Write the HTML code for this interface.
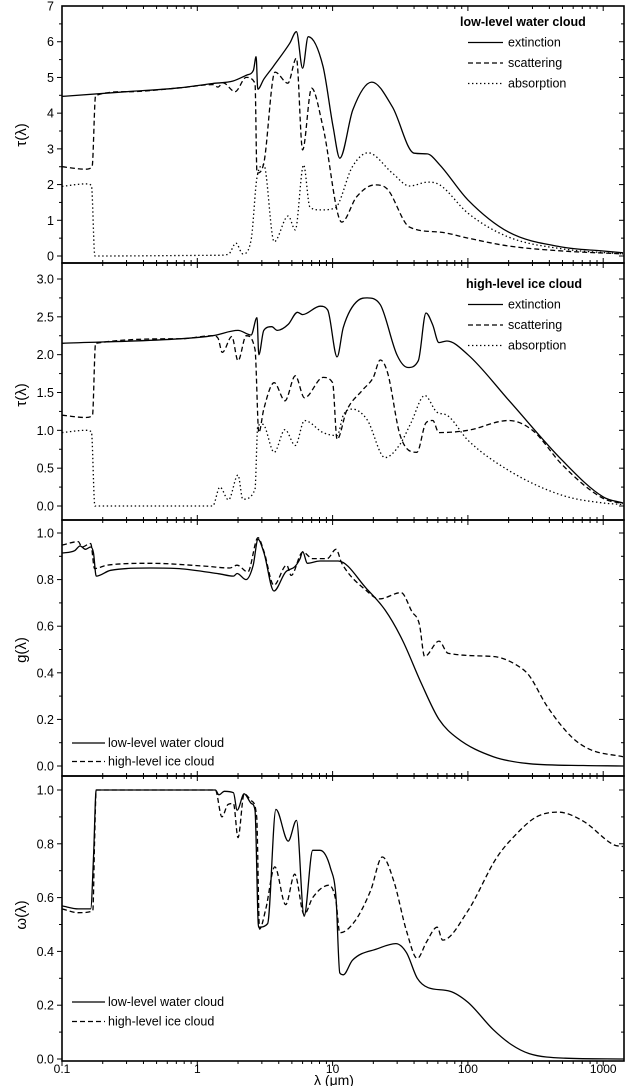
<!DOCTYPE html>
<html><head><meta charset="utf-8"><style>
html,body{margin:0;padding:0;background:#fff}
svg{display:block;font-family:"Liberation Sans",Arial,sans-serif}
</style></head><body>
<svg id="chart" width="626" height="1086" viewBox="0 0 626 1086" xmlns="http://www.w3.org/2000/svg"></svg>
<script>
// ---- data (wavelength in µm, values per panel) ----
const p1ExtX=[0.1,0.3,0.745,1.3,1.84,2.33,2.6,2.72,2.8,3.1,3.63,4.83,5.4,6.0,6.6,8.5,10.1,11.3,14.1,19.5,27.7,40,50,62,100,200,500,1000,1400];
const p1ExtY=[4.47,4.6,4.71,4.83,4.9,5.07,5.2,5.58,4.67,4.95,5.3,5.96,6.28,5.26,6.14,5.3,3.6,2.74,4.09,4.87,4.17,2.88,2.86,2.55,1.57,0.67,0.25,0.14,0.09];
const p1ScaX=[0.1,0.15,0.167,0.177,0.3,0.745,1.3,1.42,1.55,1.9,2.3,2.67,2.76,3.1,3.75,4.67,5.4,6.0,7.0,8.5,11.7,15,20.5,25,37,62,100,200,500,1400];
const p1ScaY=[2.5,2.43,2.5,4.49,4.6,4.71,4.8,4.73,4.85,4.6,5.0,4.84,2.32,2.6,5.15,4.84,5.54,2.97,4.7,3.6,0.95,1.65,1.99,1.9,0.81,0.67,0.5,0.28,0.14,0.06];
const p1AbsX=[0.1,0.15,0.165,0.175,1.4,1.7,1.93,2.17,2.5,2.76,3.1,3.7,4.7,5.3,6.1,6.8,8.1,10.4,14,18.3,27.7,37,51,62,100,200,500,1400];
const p1AbsY=[1.95,2.02,1.98,0.0,0.02,0.05,0.36,0.06,0.45,2.2,2.55,0.4,1.12,0.73,2.55,1.37,1.29,1.34,2.5,2.89,2.32,1.96,2.07,1.99,1.2,0.53,0.2,0.06];

const p2ExtX=[0.1,0.745,1.3,2.0,2.5,2.76,2.85,3.1,3.55,3.9,4.7,5.5,6.0,8.1,9.2,10.8,12,15.5,18,22.5,30,36,43,49,55,61,70,100,200,500,1000,1400];
const p2ExtY=[2.15,2.21,2.25,2.32,2.26,2.49,2.0,2.32,2.37,2.32,2.4,2.56,2.53,2.64,2.59,1.97,2.36,2.72,2.75,2.66,1.99,1.83,1.92,2.55,2.39,2.16,2.18,2.0,1.4,0.6,0.12,0.04];
const p2ScaX=[0.1,0.15,0.168,0.177,0.745,1.3,1.42,1.53,1.8,2.0,2.3,2.67,2.85,3.1,3.7,4.45,5.3,6.2,8.5,10,10.8,12.7,16.6,20,22.5,25.5,31.6,42,49,55,61,100,200,300,500,1000,1400];
const p2ScaY=[1.2,1.17,1.2,2.15,2.21,2.25,2.22,2.03,2.24,1.92,2.25,2.07,0.97,1.28,1.63,1.39,1.72,1.43,1.7,1.63,0.88,1.26,1.53,1.7,1.93,1.76,0.93,0.71,1.1,1.13,0.97,1.0,1.13,1.0,0.54,0.1,0.03];
const p2AbsX=[0.1,0.15,0.165,0.175,1.3,1.47,1.7,2.0,2.17,2.67,2.8,3.05,3.7,4.45,5.3,6.2,8.5,10.8,12,14,18,24.4,31.6,38,48,59,70,100,200,500,1000,1400];
const p2AbsY=[0.97,1.0,0.98,0.0,0.0,0.25,0.08,0.41,0.09,0.22,1.06,1.08,0.71,1.01,0.8,1.13,0.97,0.93,1.2,1.28,1.14,0.64,0.82,1.1,1.46,1.24,1.2,0.87,0.47,0.14,0.04,0.02];

const p3LowX=[0.1,0.124,0.136,0.149,0.163,0.171,0.179,0.229,0.45,0.736,1.445,1.85,1.97,2.29,2.59,2.81,3.11,3.68,4.5,5.25,5.75,6.01,6.51,8.07,11.0,17.9,24.4,33.1,45,61.2,83.2,154,284,713,1400];
const p3LowY=[0.914,0.924,0.944,0.93,0.94,0.914,0.815,0.84,0.85,0.847,0.825,0.815,0.826,0.8,0.862,0.973,0.914,0.751,0.833,0.855,0.89,0.92,0.87,0.88,0.88,0.76,0.67,0.536,0.358,0.2,0.12,0.04,0.01,0.002,0.0];
const p3HighX=[0.1,0.132,0.14,0.163,0.174,0.215,0.45,1.13,1.74,1.97,2.36,2.81,3.11,3.68,4.58,4.94,6.01,7.13,9.12,10.6,11.7,17.9,22.2,32.1,38.6,43.7,47.9,61.2,71.3,154,251,284,386,593,807,1400];
const p3HighY=[0.948,0.963,0.94,0.955,0.847,0.862,0.87,0.858,0.85,0.862,0.833,0.98,0.92,0.776,0.862,0.818,0.918,0.89,0.89,0.93,0.87,0.751,0.717,0.744,0.662,0.61,0.47,0.536,0.484,0.47,0.418,0.388,0.255,0.121,0.07,0.04];

const p4LowX=[0.1,0.132,0.163,0.171,0.179,1.36,1.445,1.585,1.85,1.97,2.22,2.51,2.67,2.84,3.31,3.81,4.7,5.41,6.16,7.13,8.07,9.69,10.6,11.3,12.0,14.0,21.5,29.3,35.2,42.3,50.9,73.6,100,154,209,284,525,1400];
const p4LowY=[0.569,0.558,0.558,0.75,1.0,1.0,0.982,0.995,0.99,0.925,0.986,0.95,0.925,0.49,0.503,0.928,0.81,0.887,0.531,0.776,0.776,0.707,0.6,0.32,0.313,0.367,0.41,0.429,0.395,0.3,0.265,0.252,0.211,0.109,0.054,0.02,0.003,0.0];
const p4HighX=[0.1,0.132,0.169,0.174,0.179,1.36,1.52,1.686,1.85,2.0,2.22,2.51,2.75,2.88,3.21,3.74,4.5,5.25,6.16,7.13,9.4,10.6,11.3,14.5,19.1,23.3,28.4,35.2,42.3,49.4,59.3,65.1,100,163,222,321,464,713,1200,1400];
const p4HighY=[0.558,0.544,0.551,0.8,1.0,1.0,0.9,0.946,0.95,0.823,0.986,0.96,0.9,0.483,0.558,0.714,0.574,0.687,0.537,0.6,0.646,0.585,0.469,0.51,0.626,0.751,0.66,0.476,0.374,0.435,0.49,0.442,0.551,0.748,0.83,0.9,0.918,0.884,0.796,0.79];

const xTickLabels=["0.1","1","10","100","1000"];
const p1TickLabels=["0","1","2","3","4","5","6","7"];
const p2TickLabels=["0.0","0.5","1.0","1.5","2.0","2.5","3.0"];
const gTickLabels=["0.0","0.2","0.4","0.6","0.8","1.0"];

// ---- layout ----
const NS="http://www.w3.org/2000/svg";
const svg=document.getElementById('chart');
const L=62,R=624,DEC=135.3;
function xs(l){return L+DEC*(Math.log10(l)+1);}
function mk(tag,attrs,parent){const e=document.createElementNS(NS,tag);for(const k in attrs)e.setAttribute(k,attrs[k]);(parent||svg).appendChild(e);return e;}

const panels=[
 {name:'extinction-panel-water',top:6,bot:263,y0:256,ppu:35.71,labels:p1TickLabels,vals:[0,1,2,3,4,5,6,7],minor:0.5,ylab:'τ(λ)',ylabY:135},
 {name:'extinction-panel-ice',top:263,bot:520,y0:506,ppu:75.67,labels:p2TickLabels,vals:[0,0.5,1,1.5,2,2.5,3],minor:0.25,ylab:'τ(λ)',ylabY:395},
 {name:'asymmetry-panel',top:520,bot:776,y0:766,ppu:233,labels:gTickLabels,vals:[0,0.2,0.4,0.6,0.8,1.0],minor:0.1,ylab:'g(λ)',ylabY:650},
 {name:'albedo-panel',top:776,bot:1061,y0:1059,ppu:269,labels:gTickLabels,vals:[0,0.2,0.4,0.6,0.8,1.0],minor:0.1,ylab:'ω(λ)',ylabY:915}
];
const defs=mk('defs',{});
panels.forEach((p,i)=>{
  const cp=mk('clipPath',{id:'clip'+i},defs);
  mk('rect',{x:L,y:p.top,width:R-L,height:p.bot-p.top},cp);
});

// monotone cubic path through pixel points
function smoothPath(px,py){
  const n=px.length; if(n<2)return '';
  const d=[],m=new Array(n);
  for(let i=0;i<n-1;i++){const dx=px[i+1]-px[i];d.push(dx>0?(py[i+1]-py[i])/dx:0);}
  m[0]=d[0];m[n-1]=d[n-2];
  for(let i=1;i<n-1;i++){m[i]=(d[i-1]*d[i]<=0)?0:(d[i-1]+d[i])/2;}
  for(let i=0;i<n-1;i++){
    if(d[i]===0){m[i]=0;m[i+1]=0;continue;}
    const a=m[i]/d[i],b=m[i+1]/d[i],s=a*a+b*b;
    if(s>9){const t=3/Math.sqrt(s);m[i]=t*a*d[i];m[i+1]=t*b*d[i];}
  }
  let s='M'+px[0].toFixed(1)+','+py[0].toFixed(1);
  for(let i=0;i<n-1;i++){
    const h=(px[i+1]-px[i])/3;
    s+='C'+(px[i]+h).toFixed(1)+','+(py[i]+m[i]*h).toFixed(1)+' '+(px[i+1]-h).toFixed(1)+','+(py[i+1]-m[i+1]*h).toFixed(1)+' '+px[i+1].toFixed(1)+','+py[i+1].toFixed(1);
  }
  return s;
}

function series(pi,X,Y,dash,name){
  const p=panels[pi];
  const px=X.map(xs), py=Y.map(v=>p.y0-v*p.ppu);
  const el=mk('path',{d:smoothPath(px,py),fill:'none',stroke:'#000','stroke-width':1.3,'stroke-dasharray':dash,'clip-path':'url(#clip'+pi+')'});
  
  
}

// axes & ticks
panels.forEach((p,i)=>{
  const g=mk('g',{});
  
  
  mk('rect',{x:L,y:p.top,width:R-L,height:p.bot-p.top,fill:'none',stroke:'#000','stroke-width':1.6},g);
  const last=i===3;
  for(let e=-1;e<=3;e++){
    for(let m=1;m<=9;m++){
      const l=m*Math.pow(10,e); const x=xs(l); if(x>R-1)continue;
      const len=m===1?5:3;
      mk('line',{x1:x,y1:p.top,x2:x,y2:p.top+len,stroke:'#000','stroke-width':1},g);
      if(last) mk('line',{x1:x,y1:p.bot,x2:x,y2:p.bot+len,stroke:'#000','stroke-width':1},g);
      else mk('line',{x1:x,y1:p.bot,x2:x,y2:p.bot-len,stroke:'#000','stroke-width':1},g);
    }
  }
  const vmax=p.vals[p.vals.length-1];
  for(let v=0;v<=vmax+1e-9;v+=p.minor){
    const y=p.y0-v*p.ppu; if(y<p.top+1)continue;
    const major=p.vals.some(a=>Math.abs(a-v)<1e-6);
    const len=major?5:3;
    mk('line',{x1:L,y1:y,x2:L-len,y2:y,stroke:'#000','stroke-width':1},g);
    mk('line',{x1:R,y1:y,x2:R-len,y2:y,stroke:'#000','stroke-width':1},g);
  }
  p.vals.forEach((v,k)=>{
    const t=mk('text',{x:L-8,y:p.y0-v*p.ppu+4.5,'text-anchor':'end','font-size':12.5},g);
    t.textContent=p.labels[k];
    
    
  });
  const yl=mk('text',{x:0,y:0,'text-anchor':'middle','font-size':15,transform:'translate(26,'+p.ylabY+') rotate(-90)'},g);
  yl.textContent=p.ylab;
  
  
});
xTickLabels.forEach((s,k)=>{
  const t=mk('text',{x:xs(Math.pow(10,k-1)),y:1073,'text-anchor':'middle','font-size':12});
  t.textContent=s;
  
  
});
const xt=mk('text',{x:334,y:1085,'text-anchor':'middle','font-size':14});
xt.textContent='λ (μm)';



// series
const DASH='5,3', DOT='1.4,2.6';
series(0,p1ExtX,p1ExtY,'none','water-extinction-line');
series(0,p1ScaX,p1ScaY,DASH,'water-scattering-line');
series(0,p1AbsX,p1AbsY,DOT,'water-absorption-line');
series(1,p2ExtX,p2ExtY,'none','ice-extinction-line');
series(1,p2ScaX,p2ScaY,DASH,'ice-scattering-line');
series(1,p2AbsX,p2AbsY,DOT,'ice-absorption-line');
series(2,p3LowX,p3LowY,'none','g-water-line');
series(2,p3HighX,p3HighY,DASH,'g-ice-line');
series(3,p4LowX,p4LowY,'none','omega-water-line');
series(3,p4HighX,p4HighY,DASH,'omega-ice-line');

// legends
function legend(name,title,entries,y0,dy,lx1,lx2,tx,titleX){
  const g=mk('g',{});
  
  
  if(title){const t=mk('text',{x:titleX,y:y0,'font-size':12.5,'font-weight':'bold'},g);t.textContent=title;y0+=dy;}
  entries.forEach((e,k)=>{
    const y=y0+k*dy;
    mk('line',{x1:lx1,y1:y-4,x2:lx2,y2:y-4,stroke:'#000','stroke-width':1.3,'stroke-dasharray':e[1]},g);
    const t=mk('text',{x:tx,y:y,'font-size':12.5},g);t.textContent=e[0];
    
    
  });
}
legend('legend-water','low-level water cloud',[['extinction','none'],['scattering',DASH],['absorption',DOT]],26,20.5,468,503,508,460);
legend('legend-ice','high-level ice cloud',[['extinction','none'],['scattering',DASH],['absorption',DOT]],288,20.5,468,503,508,466);
legend('legend-g','',[['low-level water cloud','none'],['high-level ice cloud',DASH]],747,18.5,72,105,108,0);
legend('legend-omega','',[['low-level water cloud','none'],['high-level ice cloud',DASH]],1006,19.5,72,105,108,0);
</script>
</body></html>
